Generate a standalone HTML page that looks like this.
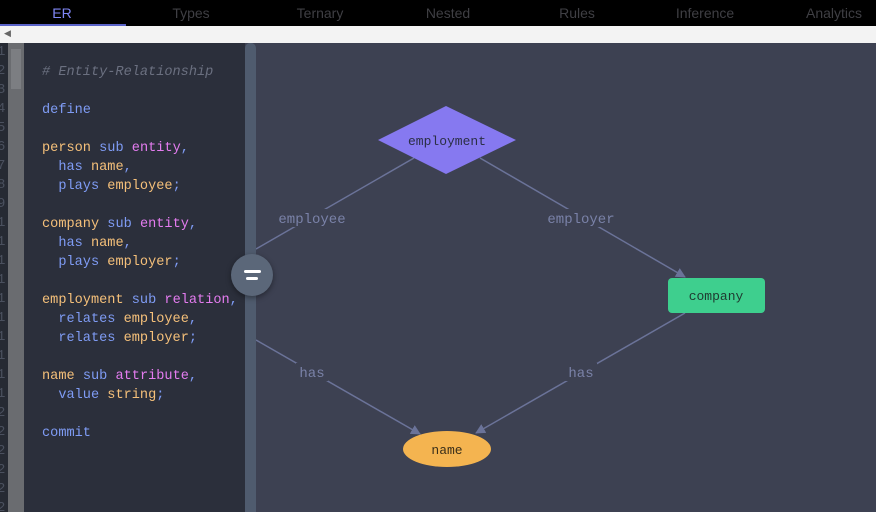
<!DOCTYPE html>
<html><head><meta charset="utf-8"><style>
*{margin:0;padding:0;box-sizing:border-box}
html,body{width:876px;height:512px;overflow:hidden}
body{background:#3d4152;position:relative;font-family:"Liberation Sans",sans-serif}
.tabs{position:absolute;left:0;top:0;width:876px;height:26px;background:#000}
.tab{position:absolute;top:5px;font-size:14px;color:#3f3f44;transform:translateX(-50%)}
.bar2{position:absolute;left:0;top:26px;width:876px;height:17px;background:#f3f3f3}
.gut{position:absolute;left:0;top:43px;width:8px;height:469px;background:#262a33;overflow:hidden}
.sb{position:absolute;left:8px;top:43px;width:16px;height:469px;background:#6a6c70}
.code{position:absolute;left:24px;top:43px;width:221px;height:469px;background:#2b2f3b}
.div{position:absolute;left:245px;top:43px;width:11px;height:469px;background:#4f5b6e;border-radius:5px 5px 0 0}
pre{position:absolute;left:42px;top:62px;font-family:"Liberation Mono",monospace;font-size:13.6px;line-height:19px;color:#7f9cf5}
.c{color:#6b7080;font-style:italic}.o{color:#f5c07a}.b{color:#7f9cf5}.m{color:#e47cf0}
.ln{position:absolute;left:-3px;top:0px;font-family:"Liberation Mono",monospace;font-size:14px;line-height:19px;color:#4a505e}
</style></head><body>
<div class="tabs">
<span class="tab" style="left:62px;color:#7f86f5">ER</span>
<div style="position:absolute;left:0;top:24px;width:126px;height:2px;background:#5a63c8"></div>
<span class="tab" style="left:191px">Types</span>
<span class="tab" style="left:320px">Ternary</span>
<span class="tab" style="left:448px">Nested</span>
<span class="tab" style="left:577px">Rules</span>
<span class="tab" style="left:705px">Inference</span>
<span class="tab" style="left:834px">Analytics</span>
</div>
<div class="bar2"><span style="position:absolute;left:4px;top:2px;font-size:9px;color:#666">◀</span></div>
<div class="gut"><div class="ln">1<br>2<br>3<br>4<br>5<br>6<br>7<br>8<br>9<br>1<br>1<br>1<br>1<br>1<br>1<br>1<br>1<br>1<br>1<br>2<br>2<br>2<br>2<br>2<br>2</div></div>
<div class="sb"><div style="position:absolute;left:3px;top:6px;width:10px;height:40px;background:#7c7e82"></div></div>
<div class="code"></div>
<pre style="top:63px"><span class="c"># Entity-Relationship</span>

<span class="b">define</span>

<span class="o">person</span> <span class="b">sub</span> <span class="m">entity</span>,
  <span class="b">has</span> <span class="o">name</span>,
  <span class="b">plays</span> <span class="o">employee</span>;

<span class="o">company</span> <span class="b">sub</span> <span class="m">entity</span>,
  <span class="b">has</span> <span class="o">name</span>,
  <span class="b">plays</span> <span class="o">employer</span>;

<span class="o">employment</span> <span class="b">sub</span> <span class="m">relation</span>,
  <span class="b">relates</span> <span class="o">employee</span>,
  <span class="b">relates</span> <span class="o">employer</span>;

<span class="o">name</span> <span class="b">sub</span> <span class="m">attribute</span>,
  <span class="b">value</span> <span class="o">string</span>;

<span class="b">commit</span></pre>
<svg style="position:absolute;left:0;top:0" width="876" height="512">
<defs><marker id="a" markerWidth="10" markerHeight="10" refX="9" refY="5" orient="auto" markerUnits="userSpaceOnUse"><path d="M0,0L10,5L0,10z" fill="#6b7399"/></marker></defs>
<g stroke="#6b7399" stroke-width="1.5" fill="none">
<line x1="414" y1="158" x2="256" y2="249"/>
<line x1="480" y1="158" x2="685" y2="277" marker-end="url(#a)"/>
<line x1="685" y1="313" x2="476" y2="433" marker-end="url(#a)"/>
<line x1="256" y1="340" x2="420" y2="434" marker-end="url(#a)"/>
</g>
<g font-family="Liberation Mono,monospace" font-size="14" fill="#7a82a8" text-anchor="middle">
<rect x="276" y="209" width="72" height="18" fill="#3d4152"/><text x="312" y="223">employee</text>
<rect x="546" y="209" width="70" height="18" fill="#3d4152"/><text x="581" y="223">employer</text>
<rect x="296" y="363" width="32" height="18" fill="#3d4152"/><text x="312" y="377">has</text>
<rect x="565" y="363" width="32" height="18" fill="#3d4152"/><text x="581" y="377">has</text>
</g>
<polygon points="378,140 446,106 516,140 446,174" fill="#8679f0"/>
<text x="447" y="145" font-family="Liberation Mono,monospace" font-size="13" fill="#2b2f45" text-anchor="middle">employment</text>
<rect x="668" y="278" width="97" height="35" rx="4" fill="#3ecf8e"/>
<text x="716" y="300" font-family="Liberation Mono,monospace" font-size="13" fill="#1f3a30" text-anchor="middle">company</text>
<ellipse cx="447" cy="449" rx="44" ry="18" fill="#f4b450"/>
<text x="447" y="454" font-family="Liberation Mono,monospace" font-size="13" fill="#3a2f1a" text-anchor="middle">name</text>
</svg>
<div class="div"></div>
<div style="position:absolute;left:231px;top:254px;width:42px;height:42px;border-radius:50%;background:#5b6779;box-shadow:0 2px 6px rgba(0,0,0,.4)">
<div style="position:absolute;left:13px;top:16px;width:17px;height:3px;background:#fff;border-radius:2px"></div>
<div style="position:absolute;left:15px;top:23px;width:12px;height:3px;background:#fff;border-radius:2px"></div>
</div>
</body></html>
